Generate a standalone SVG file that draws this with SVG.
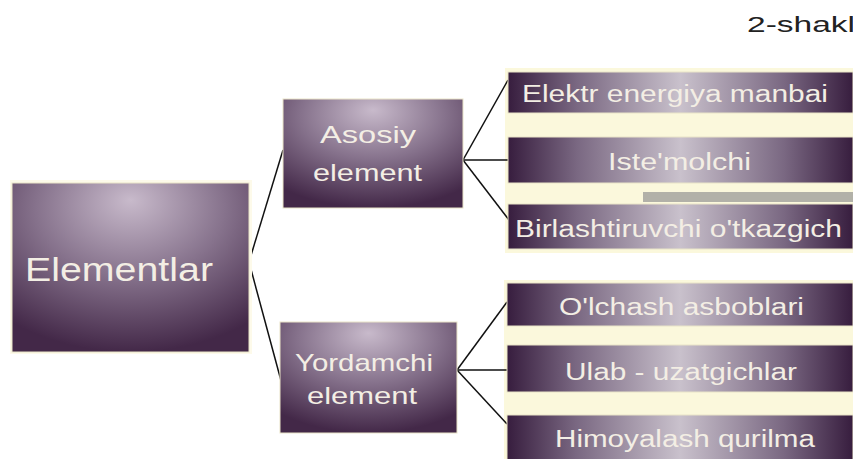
<svg xmlns="http://www.w3.org/2000/svg" width="853" height="459" viewBox="0 0 853 459">
<defs>
<radialGradient id="gMain" cx="0.5" cy="0.2" r="0.8" fx="0.5" fy="0.1">
<stop offset="0" stop-color="#c8bacb"/>
<stop offset="0.5" stop-color="#86728c"/>
<stop offset="1" stop-color="#432848"/>
</radialGradient>
<linearGradient id="gRow" x1="0" y1="0" x2="1" y2="0">
<stop offset="0" stop-color="#371d3e"/>
<stop offset="0.2" stop-color="#7a6882"/>
<stop offset="0.5" stop-color="#c9c1cc"/>
<stop offset="0.8" stop-color="#7a6882"/>
<stop offset="1" stop-color="#371d3e"/>
</linearGradient>
</defs>
<style>
.box{stroke:#e9e4c8;stroke-width:1}
.main{fill:url(#gMain)}
.row{fill:url(#gRow)}
.cream{fill:#fbf8dc}
text{font-family:"Liberation Sans",Arial,sans-serif;fill:#f3eee4}
.conn{stroke:#111;stroke-width:1.5;fill:none}
</style>
<rect x="0" y="0" width="853" height="459" fill="#ffffff"/>
<text x="747" y="32" font-size="22" textLength="108" lengthAdjust="spacingAndGlyphs" style="fill:#222">2-shakl</text>

<rect class="cream" x="505" y="68" width="348" height="185"/>
<rect class="cream" x="504" y="280" width="349" height="179"/>
<rect x="643" y="192" width="210" height="10" fill="#b2b1a8"/>

<g id="connectors">
<path class="conn" d="M249,262 L283,150"/>
<path class="conn" d="M249,262 L283,388"/>
<path class="conn" d="M463,160 L508,80"/>
<path class="conn" d="M463,160 L508,160"/>
<path class="conn" d="M463,160 L509,220"/>
<path class="conn" d="M457,370 L507,302"/>
<path class="conn" d="M457,370 L507,370"/>
<path class="conn" d="M457,370 L507,424"/>
</g>

<g id="elementlar">
<rect x="10" y="180" width="242" height="174" fill="#fdfaea"/>
<rect class="box main" x="12" y="183" width="237" height="169"/>
<text x="25" y="281" font-size="33" textLength="188" lengthAdjust="spacingAndGlyphs">Elementlar</text>
</g>

<g id="asosiy">
<rect class="box main" x="283" y="99" width="180" height="109"/>
<text x="320" y="143" font-size="24" textLength="96" lengthAdjust="spacingAndGlyphs">Asosiy</text>
<text x="313" y="181" font-size="24" textLength="109" lengthAdjust="spacingAndGlyphs">element</text>
</g>

<g id="yordamchi">
<rect class="box main" x="280" y="322" width="177" height="111"/>
<text x="295" y="371" font-size="24" textLength="138" lengthAdjust="spacingAndGlyphs">Yordamchi</text>
<text x="307" y="404" font-size="24" textLength="110" lengthAdjust="spacingAndGlyphs">element</text>
</g>

<g id="elektr">
<rect class="box row" x="508" y="72" width="345" height="41"/>
<text x="522" y="102" font-size="23" textLength="306" lengthAdjust="spacingAndGlyphs">Elektr energiya manbai</text>
</g>
<g id="istemolchi">
<rect class="box row" x="508" y="137" width="345" height="46"/>
<text x="608" y="170" font-size="23" textLength="143" lengthAdjust="spacingAndGlyphs">Iste'molchi</text>
</g>
<g id="birlashtiruvchi">
<rect class="box row" x="508" y="204" width="345" height="45"/>
<text x="515" y="237" font-size="23" textLength="327" lengthAdjust="spacingAndGlyphs">Birlashtiruvchi o'tkazgich</text>
</g>
<g id="olchash">
<rect class="box row" x="507" y="283" width="346" height="43"/>
<text x="559" y="315" font-size="23" textLength="245" lengthAdjust="spacingAndGlyphs">O'lchash asboblari</text>
</g>
<g id="ulab">
<rect class="box row" x="507" y="345" width="346" height="47"/>
<text x="565" y="380" font-size="23" textLength="232" lengthAdjust="spacingAndGlyphs">Ulab - uzatgichlar</text>
</g>
<g id="himoyalash">
<rect class="box row" x="507" y="415" width="346" height="50"/>
<text x="555" y="447" font-size="23" textLength="260" lengthAdjust="spacingAndGlyphs">Himoyalash qurilma</text>
</g>
</svg>
